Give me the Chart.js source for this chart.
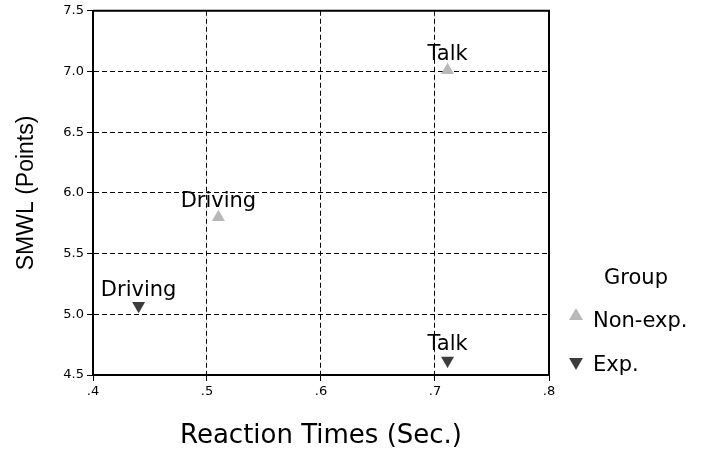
<!DOCTYPE html>
<html>
<head>
<meta charset="utf-8">
<script src="https://cdn.jsdelivr.net/npm/chart.js@4"></script>
<style>
  html, body { margin: 0; padding: 0; background: #fff; }
  #wrap { width: 707px; height: 452px; position: relative; }
</style>
</head>
<body>
<div id="wrap"><canvas id="chart"></canvas></div>
<script>
// values
const groups = ['Non-exp.', 'Exp.'];
const conditions = ['Driving', 'Talk'];
const nonExpRT = [0.51, 0.711];
const nonExpSMWL = [5.80, 7.01];
const expRT = [0.44, 0.711];
const expSMWL = [5.07, 4.62];
const xTicks = [0.4, 0.5, 0.6, 0.7, 0.8];
const yTicks = [4.5, 5.0, 5.5, 6.0, 6.5, 7.0, 7.5];

const toPoints = (xs, ys) => xs.map((x, i) => ({ x: x, y: ys[i] }));

// point labels ("Driving" / "Talk") just above each marker
const pointLabels = {
  id: 'pointLabels',
  afterDatasetsDraw(chart) {
    const ctx = chart.ctx;
    ctx.save();
    ctx.font = '21px "DejaVu Sans"';
    ctx.fillStyle = '#000';
    ctx.textAlign = 'center';
    ctx.textBaseline = 'alphabetic';
    chart.data.datasets.forEach((ds, i) => {
      chart.getDatasetMeta(i).data.forEach((pt, j) => {
        ctx.fillText(conditions[j], pt.x, pt.y - 10);
      });
    });
    ctx.restore();
  }
};

// solid frame on top/right, where the grid would be dashed
const frame = {
  id: 'frame',
  afterDraw(chart) {
    const { ctx, chartArea: a } = chart;
    ctx.save();
    ctx.strokeStyle = '#000';
    ctx.lineWidth = 2;
    ctx.beginPath();
    ctx.moveTo(a.left, a.top);
    ctx.lineTo(a.right, a.top);
    ctx.lineTo(a.right, a.bottom);
    ctx.stroke();
    ctx.restore();
  }
};

// legend box at the lower right
const groupLegend = {
  id: 'groupLegend',
  afterDraw(chart) {
    const ctx = chart.ctx;
    ctx.save();
    ctx.fillStyle = '#000';
    ctx.font = '21px "DejaVu Sans"';
    ctx.textAlign = 'center';
    ctx.textBaseline = 'middle';
    ctx.fillText('Group', 636, 279);
    ctx.textAlign = 'left';
    const rows = [{ y: 316, ty: 322 }, { y: 362, ty: 366 }];
    chart.data.datasets.forEach((ds, i) => {
      ctx.fillStyle = ds.backgroundColor;
      ctx.strokeStyle = ds.borderColor;
      ctx.lineWidth = 0;
      Chart.helpers.drawPoint(ctx, {
        pointStyle: 'triangle', radius: 8, rotation: ds.pointRotation, borderWidth: 0
      }, 576, rows[i].y);
      ctx.fillStyle = '#000';
      ctx.fillText(groups[i], 593, rows[i].ty);
    });
    ctx.restore();
  }
};

new Chart(document.getElementById('chart'), {
  type: 'scatter',
  data: {
    datasets: [
      {
        label: groups[0],
        data: toPoints(nonExpRT, nonExpSMWL),
        pointStyle: 'triangle',
        pointRotation: 0,
        pointRadius: 7.5,
        pointHoverRadius: 7.5,
        backgroundColor: '#b8b8b8',
        borderColor: '#b8b8b8',
        borderWidth: 0
      },
      {
        label: groups[1],
        data: toPoints(expRT, expSMWL),
        pointStyle: 'triangle',
        pointRotation: 180,
        pointRadius: 7.5,
        pointHoverRadius: 7.5,
        backgroundColor: '#3c3c3c',
        borderColor: '#3c3c3c',
        borderWidth: 0
      }
    ]
  },
  options: {
    responsive: true,
    maintainAspectRatio: false,
    animation: false,
    layout: { padding: { left: 0, top: 10, right: 158, bottom: 0 } },
    plugins: { legend: { display: false }, tooltip: { enabled: false } },
    scales: {
      x: {
        type: 'linear',
        min: xTicks[0],
        max: xTicks[xTicks.length - 1],
        afterFit: (s) => { s.height = 77; },
        afterBuildTicks: (s) => { s.ticks = xTicks.map(v => ({ value: v })); },
        ticks: {
          color: '#000',
          padding: 3,
          font: { family: 'DejaVu Sans', size: 13 },
          callback: (v) => Number(v).toFixed(1).replace(/^0/, '')
        },
        grid: { color: '#000', lineWidth: 1, tickLength: 6, tickColor: '#000' },
        border: { display: true, color: '#000', width: 2, dash: [5, 3] },
        title: {
          display: true,
          text: 'Reaction Times (Sec.)',
          color: '#000',
          font: { family: 'DejaVu Sans', size: 26 },
          padding: { top: 0, bottom: 0 }
        }
      },
      y: {
        type: 'linear',
        min: yTicks[0],
        max: yTicks[yTicks.length - 1],
        afterFit: (s) => { s.width = 93; },
        afterBuildTicks: (s) => { s.ticks = yTicks.map(v => ({ value: v })); },
        ticks: {
          color: '#000',
          padding: 3,
          font: { family: 'DejaVu Sans', size: 13 },
          callback: (v) => Number(v).toFixed(1)
        },
        grid: { color: '#000', lineWidth: 1, tickLength: 6, tickColor: '#000' },
        border: { display: true, color: '#000', width: 2, dash: [5, 3] },
        title: {
          display: true,
          text: 'SMWL (Points)',
          color: '#000',
          font: { family: 'Liberation Sans', size: 23 },
          padding: { top: 13, bottom: 0 }
        }
      }
    }
  },
  plugins: [pointLabels, frame, groupLegend]
});
</script>
</body>
</html>
